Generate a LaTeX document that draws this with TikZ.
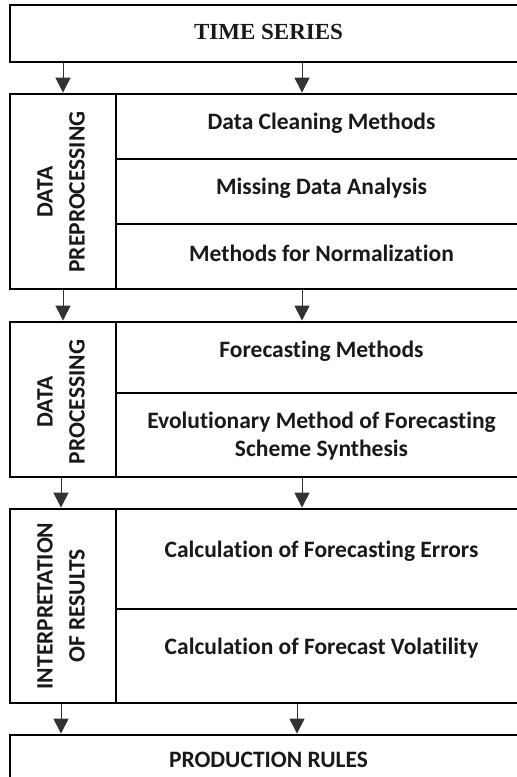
\documentclass[tikz,border=0pt]{standalone}
\usepackage{fontspec}
\setmainfont{Carlito}[Ligatures={NoCommon}]
\newfontfamily\tnr{Liberation Serif}
\usetikzlibrary{arrows.meta}
\begin{document}
\begin{tikzpicture}[x=1pt,y=-1pt,
  cell/.style={draw=black, line width=1.8pt, rectangle, inner sep=0pt},
  txt/.style={font=\fontsize{23.5}{28}\selectfont\bfseries, align=center, text=black!90},
  side/.style={font=\fontsize{23.5}{32}\selectfont\bfseries, align=center, rotate=90, text=black!90},
  arr/.style={line width=1pt, draw=black!80, -{Triangle[width=15pt,length=15pt]}, shorten >=0.5pt}
]
\useasboundingbox (0,0) rectangle (517,777);
\clip (0,0) rectangle (517,777);
% top
\node[cell, minimum width=517, minimum height=57] (ts) at (268.5,33.5) {};
\node[font=\tnr\fontsize{23}{27}\selectfont\bfseries, text=black!90] (tst) at (268.5,32) {TIME SERIES};
% preprocessing
\node[cell, minimum width=106, minimum height=195] (ppl) at (63,191.5) {};
\node[side] (ppt) at (61,192) {DATA\\PREPROCESSING};
\node[cell, minimum width=411, minimum height=65] (dc) at (321.5,126.5) {};
\node[txt] (dct) at (321.5,123) {Data Cleaning Methods};
\node[cell, minimum width=411, minimum height=65] (md) at (321.5,191.5) {};
\node[txt] (mdt) at (321.5,188) {Missing Data Analysis};
\node[cell, minimum width=411, minimum height=65] (mn) at (321.5,256.5) {};
\node[txt] (mnt) at (321.5,253) {Methods for Normalization};
% processing
\node[cell, minimum width=106, minimum height=155] (prl) at (63,399.5) {};
\node[side] (prt) at (61,402) {DATA\\PROCESSING};
\node[cell, minimum width=411, minimum height=71] (fm) at (321.5,357.5) {};
\node[txt] (fmt) at (321.5,351) {Forecasting Methods};
\node[cell, minimum width=411, minimum height=84] (em) at (321.5,435) {};
\node[txt] (emt) at (321.5,436) {Evolutionary Method of Forecasting\\Scheme Synthesis};
% interpretation
\node[cell, minimum width=106, minimum height=194] (irl) at (63,606) {};
\node[side] (irt) at (61,606) {INTERPRETATION\\OF RESULTS};
\node[cell, minimum width=411, minimum height=100] (ce) at (321.5,559) {};
\node[txt] (cet) at (321.5,551) {Calculation of Forecasting Errors};
\node[cell, minimum width=411, minimum height=94] (cv) at (321.5,656) {};
\node[txt] (cvt) at (321.5,648) {Calculation of Forecast Volatility};
% production rules
\node[cell, minimum width=517, minimum height=57] (pr) at (268.5,763.5) {};
\node[txt] (prtx) at (268.5,760) {PRODUCTION RULES};
% arrows
\draw[arr] (ts.south -| ppl.north) -- (ppl.north);
\draw[arr] ([xshift=-19.5pt]dc.north |- ts.south) -- ([xshift=-19.5pt]dc.north);
\draw[arr] (ppl.south) -- (prl.north);
\draw[arr] ([xshift=-19.5pt]mn.south) -- ([xshift=-19.5pt]fm.north);
\draw[arr] ([xshift=-2pt]prl.south) -- ([xshift=-2pt]irl.north);
\draw[arr] ([xshift=-19.5pt]em.south) -- ([xshift=-19.5pt]ce.north);
\draw[arr] ([xshift=-2pt]irl.south) -- ([xshift=-2pt]pr.north -| irl.south);
\draw[arr] ([xshift=-24.5pt]cv.south) -- ([xshift=-24.5pt]cv.south |- pr.north);
\end{tikzpicture}
\end{document}
